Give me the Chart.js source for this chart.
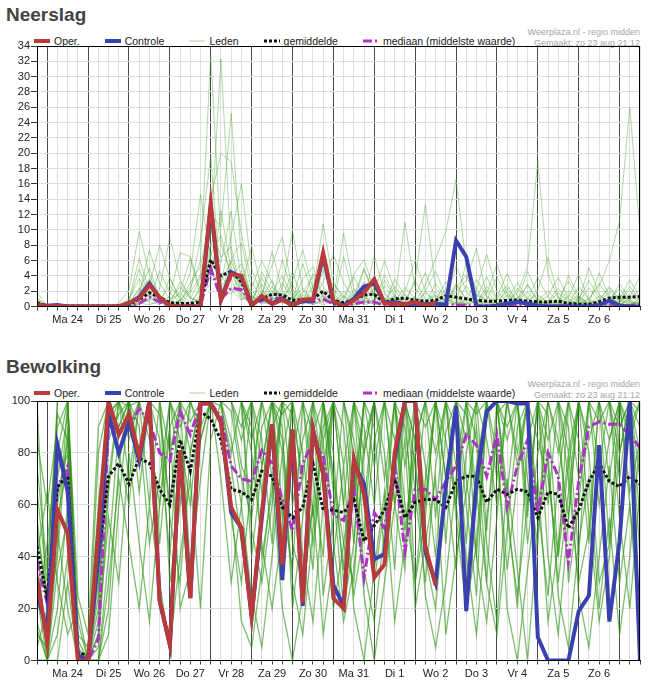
<!DOCTYPE html>
<html lang="nl">
<head>
<meta charset="utf-8">
<title>Neerslag en bewolking</title>
<script src="https://cdn.jsdelivr.net/npm/chart.js@4.4.1/dist/chart.umd.min.js"></script>
<style>
  body { margin: 0; background: #fff; font-family: "Liberation Sans", Arial, sans-serif; }
  .paneel { position: absolute; left: 0; width: 657px; height: 330px; }
  .titel { position: absolute; left: 6px; top: 5px; font-size: 19px; line-height: 19px; font-weight: bold; color: #444; }
  .legenda { position: absolute; left: 34px; top: 34.5px; display: flex; gap: 25px; font-size: 10.5px; line-height: 12px; color: #222; white-space: nowrap; }
  .legenda span { display: flex; align-items: center; }
  .legenda svg { margin-right: 4px; }
  .bron { position: absolute; right: 17px; top: 26.5px; text-align: right; font-size: 9px; line-height: 11px; color: #a5a5a5; }
  .vak { position: absolute; left: 0; top: 30px; width: 657px; height: 300px; }
</style>
</head>
<body>

<div class="paneel" style="top:0">
  <div class="titel">Neerslag</div>
  <div class="legenda"></div>
  <div class="bron">Weerplaza.nl - regio midden<br>Gemaakt: zo 23 aug 21:12</div>
  <div class="vak"><canvas id="grafiekRegen"></canvas></div>
</div>

<div class="paneel" style="top:352px">
  <div class="titel">Bewolking</div>
  <div class="legenda"></div>
  <div class="bron">Weerplaza.nl - regio midden<br>Gemaakt: zo 23 aug 21:12</div>
  <div class="vak" style="top:31.5px"><canvas id="grafiekWolk"></canvas></div>
</div>

<script>
// tijdas: zo 23 18:00 t/m ma 7 12:00, stappen van 6 uur
const dagen = ["Ma 24", "Di 25", "Wo 26", "Do 27", "Vr 28", "Za 29", "Zo 30", "Ma 31", "Di 1", "Wo 2", "Do 3", "Vr 4", "Za 5", "Zo 6"];
const uren = ["00:00", "06:00", "12:00", "18:00"];

// neerslag (mm)
const operRegen = [0.3,0,0.05,0,0,0,0,0,0,0.5,  1.0,2.8,1.2,0.1,0,0,0,13.5,0.8,4.2,  4.0,0.1,1.4,0.3,0.9,0.1,0.9,0.9,7.0,0.7,  0,0.8,1.8,3.6,0.4,0.4,0.3,0.6,0.1,0.5];
const controleRegen = [0.2,0.1,0.2,0,0,0,0,0,0,0.4,  1.2,3.0,1.1,0.1,0,0,0,13.0,0.9,4.5,  3.8,0.2,1.2,0.4,1.0,0.2,0.7,0.8,6.6,0.6,  0.1,1.0,2.6,3.0,0.5,0.6,0.3,0.4,0.3,0.4,  0.2,8.6,6.5,0,0,0.1,0.4,0.6,0.4,0.1,  0,0,0,0,0,0.2,0.8,0.1,0,0];
const gemRegen = [0.5,0.1,0.05,0.05,0.05,0.05,0.05,0.05,0.1,0.3,  0.9,1.8,1.2,0.5,0.4,0.4,0.6,6.1,4.0,4.6,  3.2,0.5,1.0,1.6,1.5,0.8,0.9,1.0,2.0,0.8,  0.5,0.8,1.5,1.6,0.5,1.0,1.1,0.8,0.7,0.8,  1.4,1.2,1.0,0.8,0.7,0.7,0.8,0.8,0.7,0.6,  0.6,0.7,0.4,0.3,0.3,0.6,1.1,1.2,1.2,1.3];
const medRegen = [0.1,0,0,0,0,0,0,0,0,0.1,  0.4,1.2,0.6,0.1,0.1,0.1,0.2,5.0,1.0,2.4,  2.2,0.2,0.8,1.0,1.1,0.2,0.6,0.6,1.0,0.3,  0.1,0.3,0.6,0.6,0.1,0.2,0.2,0.2,0.2,0.3,  0.3,0.2,0.2,0.1,0.1,0.1,0.2,0.2,0.1,0.1,  0.1,0.1,0.1,0.1,0.1,0.2,0.3,0.2,0.1,0.3];
const ledenRegen = [
  [1.2,0,0,0,0,0,0,0,0,0.5,  2.1,5.0,1.2,0.3,0.8,2.4,6.0,32.8,8.1,4.4,  2.0,0.3,1.1,3.4,0.6,0.2,1.5,0.9,2.2,0.4,  0.1,0.8,3.2,1.4,0.2,0.5,0,0.3,1.8,0.6,  0.2,2.5,4.1,0.9,0.1,0,0.4,1.2,0.3,0,  0,0.6,2.0,0.8,0.1,0,0.3,1.1,0.5,0.2],
  [0.4,0,0,0,0,0,0,0,0.1,1.0,  3.6,1.2,0.4,0.8,2.6,1.0,3.8,9.5,32.3,6.8,  1.4,0.8,2.9,0.6,1.2,4.5,0.8,0.2,0.9,3.1,  1.2,0.3,0.7,2.4,0.9,0.2,1.6,0.4,0.1,0.8,  3.2,1.1,0.3,0.6,2.1,0.5,0.1,0.7,1.9,0.4,  0.2,0.1,0.6,1.4,0.3,0.8,2.6,0.9,0.3,1.0],
  [0,0,0,0,0,0,0,0,0.4,2.2,  9.8,4.1,1.3,0.2,0.6,3.1,5.2,12.0,10.4,25.2,  6.1,1.2,0.5,1.8,4.0,1.3,0.4,2.7,6.3,1.0,  0.4,1.1,0.2,0.6,3.4,1.2,0.3,0.1,2.0,4.6,  1.3,0.5,0.2,1.6,0.8,0.3,2.4,0.7,0.2,0.1,  0.5,1.8,0.6,0.2,0.9,3.0,1.1,0.4,0.2,0.6],
  [0.8,0,0,0,0,0,0,0,0,0.3,  1.5,7.4,3.0,0.9,1.7,0.5,2.2,14.1,20.0,18.9,  9.4,3.2,1.0,0.4,2.3,9.9,2.1,0.6,1.4,0.8,  9.6,2.3,0.8,0.3,1.1,0.6,2.5,1.0,0.4,0.2,  0.6,1.9,3.4,7.6,1.2,0.4,0.1,0.9,2.8,0.6,  0.3,0.2,1.2,4.2,0.8,0.2,0.5,1.6,0.7,0.3],
  [1.8,0.1,0,0,0,0,0,0,0.2,0.6,  0.9,2.8,8.0,3.6,1.2,4.4,14.6,6.2,3.1,9.2,  16.0,4.8,1.6,5.4,9.1,2.0,0.7,1.8,10.8,3.0,  1.1,4.2,6.1,2.2,0.6,1.4,0.4,3.3,1.0,0.3,  1.0,0.4,5.8,2.1,0.7,0.2,1.5,0.5,0.3,2.2,  6.4,1.2,0.3,0.6,2.4,0.7,0.2,0.9,3.5,1.2],
  [0.2,0,0,0,0,0,0,0,0,0,  0.4,1.0,2.3,9.0,3.5,1.1,0.6,8.3,5.7,12.4,  3.3,0.6,2.0,0.9,1.7,0.5,3.6,5.2,1.1,0.4,  2.0,0.7,4.8,1.3,0.3,0.9,11.0,2.4,0.7,1.5,  0.5,3.0,1.0,0.3,0.8,3.9,1.2,0.4,0.1,0.5,  1.4,3.8,1.0,0.2,0.1,0.6,1.9,0.8,2.1,0.5],
  [0,0,0,0,0,0,0,0,0,0.2,  1.1,0.5,0.3,1.4,7.0,6.5,2.0,5.5,4.0,2.3,  0.8,2.4,6.0,3.1,0.5,1.2,0.3,0.8,3.2,6.8,  3.1,0.9,0.3,1.8,6.0,2.1,0.6,3.5,13.3,2.4,  0.8,0.3,1.1,0.4,2.6,1.0,0.3,0.1,0.8,1.6,  0.4,0.2,4.1,1.3,0.4,0.2,1.0,2.3,0.6,0.2],
  [0.5,0,0,0,0,0,0,0,0,0.8,  6.3,2.0,0.6,0.2,0.4,1.8,4.2,10.6,6.4,7.8,  1.9,0.5,1.3,7.2,2.0,0.8,5.6,1.4,0.5,1.3,  0.5,1.6,2.8,0.6,0.2,3.6,1.4,0.5,2.8,6.2,  9.8,16.6,5.3,1.5,0.6,0.2,0.9,3.1,1.0,0.3,  0.8,0.3,0.1,0.7,5.1,1.6,0.4,0.2,1.2,4.0],
  [0,0,0,0,0,0,0,0,0,0,  0.3,0.9,4.6,1.8,0.5,0.2,1.1,7.1,3.3,5.9,  2.6,7.8,2.2,0.4,0.9,2.8,1.0,0.3,0.6,2.2,  0.8,3.9,1.2,0.4,1.6,0.5,0.2,1.4,4.4,1.1,  0.3,1.4,0.5,2.2,6.8,2.0,0.6,1.8,5.2,19.0,  4.2,1.0,0.3,2.6,0.9,0.3,0.1,0.5,1.5,0.4],
  [0.3,0,0,0,0,0,0,0,0.1,0.4,  2.4,0.7,1.5,0.5,3.2,1.2,0.4,6.8,9.3,3.6,  0.9,1.4,0.4,2.6,0.8,3.4,7.4,2.3,0.8,0.3,  1.4,0.5,0.9,6.6,1.8,0.5,0.2,0.8,0.3,3.0,  1.1,0.4,2.7,0.9,0.3,1.2,4.3,1.4,0.4,0.2,  0.6,2.4,0.8,0.3,1.1,2.7,6.0,11.2,26.0,9.8],
  [1.0,0,0,0,0,0,0,0,0,0.1,  0.5,0.2,0.8,2.7,1.0,0.3,2.6,4.8,1.5,6.2,  8.3,2.1,0.6,0.2,3.1,1.0,2.4,0.8,0.2,0.9,  0.3,2.2,0.8,0.2,0.7,2.6,0.9,0.3,0.6,1.9,  0.6,0.2,0.8,3.5,1.4,0.5,0.2,2.4,0.9,3.8,  1.2,0.4,0.2,1.1,0.4,4.4,1.3,0.3,0.8,2.4],
  [0,0,0,0,0,0,0,0,0,0.3,  1.8,3.6,0.9,0.4,1.9,6.3,1.4,4.6,2.8,3.9,  5.6,0.7,3.8,1.2,0.4,0.6,1.8,3.9,1.3,0.5,  6.5,1.2,0.4,0.9,2.7,0.8,0.3,1.2,0.5,0.2,  2.3,0.7,0.3,1.1,3.9,1.0,2.8,0.6,0.2,1.0,  0.3,0.8,3.3,0.9,0.3,1.4,0.5,3.0,0.9,0.3],
  [0.6,0,0,0,0,0,0,0,0,0,  0.2,1.6,0.5,0.1,0.9,2.0,8.8,19.6,2.4,1.6,  4.7,1.5,0.3,0.8,6.1,1.7,0.5,4.3,2.6,1.0,  0.4,1.3,5.0,1.6,0.5,0.2,1.9,6.0,2.0,0.7,  0.4,2.8,0.9,0.3,1.7,5.5,1.7,0.5,2.9,0.8,  2.0,0.6,0.2,0.9,3.4,1.1,0.3,0.7,2.6,0.8],
  [0.1,0,0,0,0,0,0,0,0,0.6,  4.9,1.4,0.2,3.8,0.7,0.2,1.4,3.0,12.5,4.7,  1.2,0.4,4.5,1.9,0.6,2.2,0.9,0.3,4.8,1.6,  0.6,0.2,1.3,0.5,4.1,1.5,0.4,0.9,0.3,1.4,  0.7,5.3,2.0,0.6,0.2,0.8,1.9,0.7,4.6,1.4,  0.5,0.2,1.5,0.6,0.2,0.9,2.4,0.7,0.3,0.6]
];

// bewolking (%)
const operWolk = [32,7,58,49,0,0,50,100,87,95,  79,100,23,6,81,24,99,99,92,59,  51,17,57,91,37,89,22,89,72,24,  20,78,64,32,37,80,100,100,44,29];
const controleWolk = [26,11,83,65,2,0,40,95,80,92,  77,100,23,6,81,24,99,99,92,57,  51,17,55,91,31,89,21,89,72,29,  21,76,68,39,41,78,100,100,42,30,  67,98,19,69,96,100,100,99,99,9,  0,0,0,19,25,83,15,46,100,0];
const gemWolk = [44,24,67,71,3,2,40,71,76,68,  78,76,66,60,85,73,96,93,85,66,  65,62,73,71,59,55,59,76,58,58,  57,62,46,52,58,70,55,61,62,62,  59,69,71,71,61,66,64,66,65,55,  65,64,51,58,69,76,69,67,71,68];
const medWolk = [38,22,67,75,0,0,8,91,89,90,  97,92,80,77,96,87,99,99,94,75,  70,69,81,76,62,50,76,84,79,56,  54,66,32,57,51,75,42,66,66,62,  69,75,87,83,71,87,59,75,85,57,  80,71,38,69,90,92,91,91,87,82];
const ledenWolk = [
  [30,8,70,95,4,0,45,100,100,98,  100,100,85,40,100,92,100,100,100,96,  70,55,90,100,60,35,100,88,100,72,  45,30,85,100,100,60,100,100,75,40,  88,100,100,65,30,95,100,100,70,45,  100,85,55,100,100,92,100,80,100,96],
  [12,0,60,85,0,0,20,95,100,100,  80,100,100,100,70,100,100,100,100,100,  85,100,40,65,100,95,70,100,25,55,  100,100,70,30,60,100,90,55,100,100,  70,35,80,100,100,100,60,20,85,100,  95,40,75,100,100,100,70,100,90,100],
  [65,30,100,100,10,5,60,100,90,100,  100,60,100,100,100,100,100,100,98,80,  100,90,65,100,45,80,100,55,90,100,  60,100,45,85,100,100,75,100,100,55,  100,90,45,100,100,70,100,75,100,100,  60,100,100,85,45,100,100,100,65,85],
  [20,45,85,70,0,0,5,65,100,85,  100,100,45,90,100,100,100,100,100,100,  100,40,75,100,90,20,55,100,100,80,  30,65,100,100,70,100,50,85,100,100,  45,100,95,60,100,100,85,100,45,80,  100,100,30,60,100,75,100,100,100,70],
  [100,15,40,90,3,2,35,100,100,100,  100,100,100,80,100,100,85,100,100,100,  90,100,100,70,100,100,65,35,100,100,  90,45,100,100,80,35,100,100,60,100,  100,100,70,40,95,100,100,80,100,55,  100,100,100,70,100,100,45,90,100,100],
  [45,0,20,60,0,0,0,40,90,100,  100,100,100,100,85,60,100,100,100,85,  60,100,85,45,100,100,100,70,40,100,  100,85,60,100,100,100,40,100,100,100,  85,60,100,100,50,100,100,100,100,85,  70,40,100,100,100,60,85,100,100,55],
  [10,5,100,100,15,0,80,100,100,70,  100,100,100,100,100,100,100,100,100,100,  100,85,100,100,100,60,85,100,100,100,  75,100,90,60,100,85,100,100,90,100,  70,100,100,100,85,60,100,100,100,100,  100,80,100,100,85,100,100,90,100,100],
  [0,0,35,55,0,0,0,10,60,100,  90,45,70,100,100,100,100,100,90,55,  30,70,100,100,85,45,30,60,100,65,  20,45,100,90,40,70,100,65,30,75,  100,55,20,45,100,80,35,70,100,100,  40,10,55,100,80,30,45,100,100,40],
  [85,60,90,100,25,10,90,100,100,100,  100,100,95,60,100,100,100,100,100,100,  100,100,75,100,100,100,100,100,85,100,  100,100,100,75,100,100,100,85,100,100,  100,100,85,100,100,100,90,100,100,100,  85,100,100,100,100,100,100,100,85,100],
  [15,0,10,40,0,0,10,70,100,100,  65,100,100,30,60,100,100,100,100,75,  45,20,55,90,100,85,40,15,60,100,  100,80,35,15,50,100,100,75,40,20,  65,100,100,85,30,10,50,90,100,60,  25,70,100,100,55,15,40,80,100,80],
  [55,20,80,100,5,0,55,100,100,90,  100,100,100,100,100,80,100,100,100,100,  100,100,100,85,55,100,100,100,70,100,  100,100,80,100,100,100,100,85,60,100,  100,100,100,95,100,100,65,100,100,100,  100,100,80,100,100,100,100,70,100,100],
  [35,10,55,75,0,0,25,85,95,100,  100,100,100,100,100,100,90,100,100,100,  75,65,100,100,100,100,100,100,100,70,  35,100,100,100,100,60,35,100,100,100,  100,100,60,25,100,100,100,100,55,100,  100,100,90,40,100,100,100,100,100,90],
  [0,0,0,30,0,0,0,20,75,100,  100,100,100,100,90,100,100,100,100,100,  100,100,100,100,95,100,100,100,100,100,  100,60,100,100,100,100,100,100,100,80,  100,100,100,100,100,100,100,100,60,100,  100,100,100,100,100,100,85,100,100,100],
  [75,35,95,85,8,0,40,95,100,100,  100,85,60,100,100,35,70,100,100,100,  100,50,30,60,100,100,80,45,75,100,  60,25,50,100,100,100,100,30,55,100,  100,60,30,75,100,100,55,25,60,100,  100,100,70,30,50,100,100,55,20,65],
  [25,0,45,100,0,0,15,90,100,100,  100,100,100,100,100,100,100,100,100,100,  100,100,100,100,80,100,100,100,100,100,  100,100,100,100,100,100,100,100,100,100,  100,75,100,100,100,100,100,100,100,100,  100,100,100,100,100,100,100,100,100,100],
  [50,25,65,80,0,0,30,100,80,60,  100,100,100,55,30,80,100,100,100,100,  100,80,45,20,50,100,100,100,100,45,  15,35,80,100,100,100,60,30,70,100,  100,100,100,40,15,55,100,100,100,100,  75,30,65,100,100,100,100,100,60,20],
  [5,20,50,20,0,0,0,30,70,45,  20,60,30,5,40,70,20,85,100,60,  15,5,35,70,20,0,25,60,10,40,  75,20,0,35,65,15,45,80,25,5,  30,70,40,10,55,85,20,0,35,70,  15,45,80,25,5,40,75,30,60,10],
  [40,65,30,10,20,0,10,55,30,80,  45,15,60,90,20,35,85,100,70,30,  60,25,5,40,80,30,10,50,85,20,  45,75,25,0,30,60,85,20,45,70,  10,40,65,90,45,15,70,35,0,50,  80,25,5,45,70,20,55,10,40,85]
];

const tijden = ["Zo 23 18:00"];
dagen.forEach(d => uren.forEach(u => tijden.push(d + " " + u)));
tijden.push("Ma 7 00:00", "Ma 7 06:00", "Ma 7 12:00");

const stijlOper = { borderColor: "#b83a3a", borderWidth: 4 };
const stijlControle = { borderColor: "#3a40b0", borderWidth: 4 };
const stijlLedenRegen = { borderColor: "rgba(70,165,40,0.42)", borderWidth: 1 };
const stijlLedenWolk = { borderColor: "rgba(45,150,20,0.62)", borderWidth: 1.3 };
const stijlGem = { borderColor: "#111", borderWidth: 3, borderDash: [3, 2] };
const stijlMed = { borderColor: "#b030c8", borderWidth: 3, borderDash: [9, 3, 2, 3] };

Chart.defaults.font.family = '"Liberation Sans", Arial, sans-serif';
Chart.defaults.color = "#222";

function maakLegenda(el) {
  const items = [["Oper.", stijlOper], ["Controle", stijlControle], ["Leden", { borderColor: "rgba(120,180,100,0.6)", borderWidth: 1 }],
    ["gemiddelde", stijlGem], ["mediaan (middelste waarde)", stijlMed]];
  el.innerHTML = items.map(([tekst, s]) =>
    `<span><svg width="16" height="12"><line x1="0" y1="6" x2="16" y2="6" stroke="${s.borderColor}" stroke-width="${s.borderWidth}" stroke-dasharray="${(s.borderDash || []).join(" ")}"/></svg>${tekst}</span>`
  ).join("");
}

const kader = {
  id: "kader",
  afterDatasetsDraw(chart) {
    const { ctx, chartArea: a } = chart;
    const l = Math.round(a.left) + 0.5, t = Math.round(a.top) + 0.5;
    const r = Math.round(a.right) - 0.5, b = Math.round(a.bottom) - 0.5;
    ctx.save();
    ctx.strokeStyle = "#000";
    ctx.lineWidth = 1;
    ctx.strokeRect(l, t, r - l, b - t);
    ctx.restore();
  }
};

function lijn(label, data, stijl, order) {
  return { label, data, order, clip: 0, pointRadius: 0, tension: 0, fill: false, ...stijl };
}

function maakGrafiek(id, reeks, max, stap, boven) {
  const datasets = [
    lijn("Oper.", reeks.oper, stijlOper, 1),
    lijn("Controle", reeks.controle, stijlControle, 2),
    ...reeks.leden.map((l, i) => lijn(i === 0 ? "Leden" : "", l, reeks.ledenStijl, 10)),
    lijn("gemiddelde", reeks.gem, stijlGem, 3),
    lijn("mediaan (middelste waarde)", reeks.med, stijlMed, 4)
  ];
  new Chart(document.getElementById(id), {
    type: "line",
    data: { labels: tijden, datasets },
    options: {
      responsive: true,
      maintainAspectRatio: false,
      animation: false,
      layout: { padding: { top: boven, right: 17, left: 0, bottom: 0 } },
      plugins: { legend: { display: false }, tooltip: { enabled: false } },
      scales: {
        x: {
          offset: false,
          grid: { color: c => (c.index % 4 === 1 ? "#4a4a4a" : "#dedede"), tickColor: "#444", tickLength: 4 },
          border: { color: "#000" },
          ticks: {
            autoSkip: false, maxRotation: 0, padding: 3, font: { size: 11 },
            callback: (v, i) => (i % 4 === 3 && dagen[(i - 3) / 4]) ? dagen[(i - 3) / 4] : ""
          },
          afterFit: s => { s.height = 23.5; }
        },
        y: {
          min: 0,
          max: max,
          grid: { color: "#dedede", tickColor: "#333", tickLength: 6 },
          border: { color: "#000" },
          ticks: { stepSize: stap, autoSkip: false, padding: 1, font: { size: 11 } },
          afterFit: s => { s.width = 37; }
        }
      }
    },
    plugins: [kader]
  });
}

document.querySelectorAll(".legenda").forEach(maakLegenda);

maakGrafiek("grafiekRegen", { oper: operRegen, controle: controleRegen, leden: ledenRegen, ledenStijl: stijlLedenRegen, gem: gemRegen, med: medRegen }, 34, 2, 16);
maakGrafiek("grafiekWolk", { oper: operWolk, controle: controleWolk, leden: ledenWolk, ledenStijl: stijlLedenWolk, gem: gemWolk, med: medWolk }, 100, 20, 17);
</script>
</body>
</html>
